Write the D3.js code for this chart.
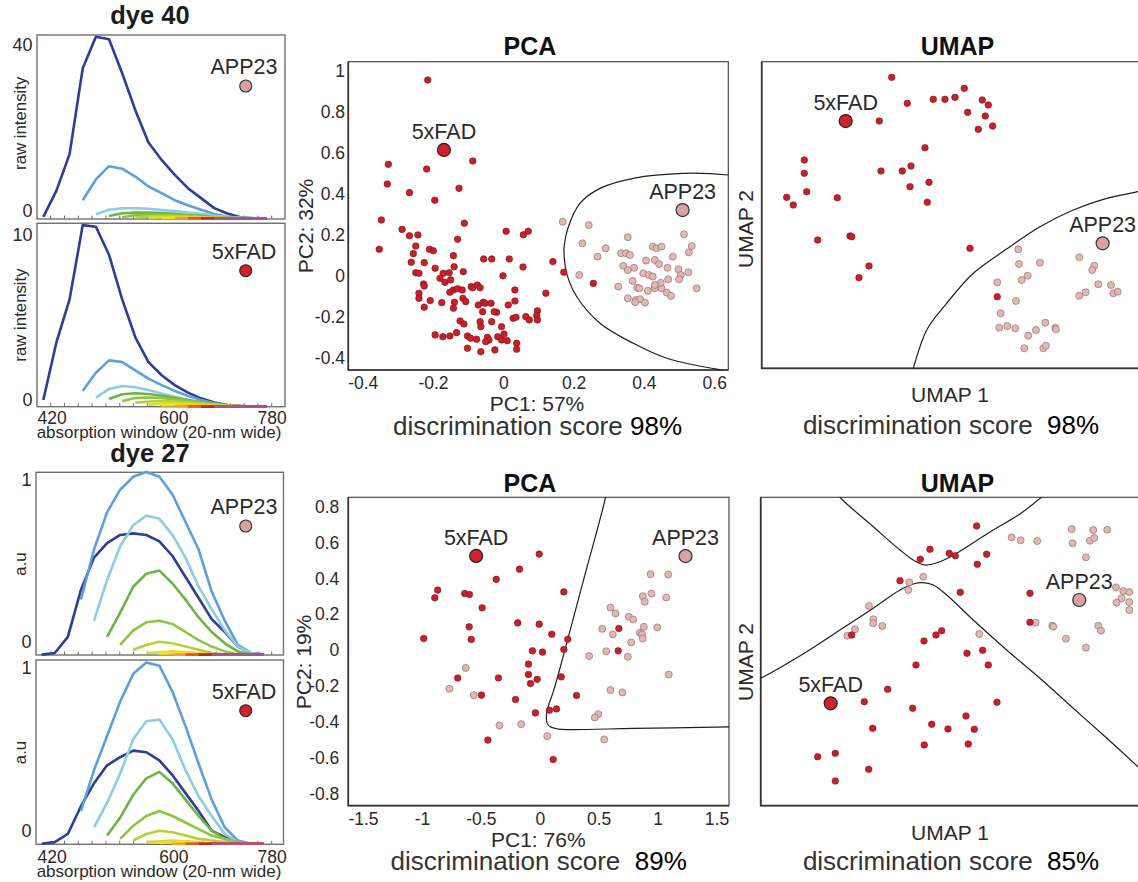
<!DOCTYPE html>
<html><head><meta charset="utf-8">
<script src="https://cdn.jsdelivr.net/npm/d3@7"></script>
<style>
body{margin:0;background:#fff;}
svg text{font-family:"Liberation Sans",Arial,Helvetica,sans-serif;}
</style></head><body>
<svg id="c" width="1138" height="882"></svg>
<script>
// ================= DATA =================
const wavelengthTicks = [420, 600, 780];
const spectraColors = ["#2e3d96","#5ba0dc","#8ccde4","#6cb545","#8cc540","#b3d236","#dcdd26","#f4e01b","#efa02f","#e3562b","#c1262c","#b24d94"];

// each curve: [first window index, values...]
const dye40_APP23 = [
  [0, [-1.4, 4.9, 13.7, 34.4, 42.0, 41.4, 33.2, 24.3, 16.5, 12.3, 8.7, 5.5, 3.1, 0.7, -0.6, -1.5, -1.75, -1.75]],
  [3, [2.6, 7.6, 10.8, 10.2, 8.3, 5.9, 4.3, 2.6, 1.4, 0.3, -0.7, -1.4, -1.75, -1.75, -1.75]],
  [4, [-0.8, 0.3, 0.65, 0.65, 0.55, 0.25, 0.0, -0.35, -0.7, -1.1, -1.4, -1.55, -1.7, -1.75]],
  [5, [-1.2, -0.55, -0.4, -0.4, -0.5, -0.7, -1.0, -1.2, -1.45, -1.6, -1.7, -1.75, -1.75]],
  [6, [-1.5, -1.0, -0.9, -0.9, -1.0, -1.2, -1.4, -1.55, -1.7, -1.75, -1.75, -1.75]],
  [7, [-1.6, -1.3, -1.2, -1.25, -1.35, -1.5, -1.6, -1.7, -1.75, -1.75, -1.75]],
  [8, [-1.65, -1.5, -1.45, -1.5, -1.6, -1.7, -1.75, -1.75, -1.75, -1.75]],
  [9, [-1.7, -1.6, -1.6, -1.65, -1.7, -1.75, -1.75, -1.75, -1.75]],
  [10, [-1.72, -1.7, -1.7, -1.72, -1.75, -1.75, -1.75, -1.75]],
  [11, [-1.75, -1.73, -1.73, -1.75, -1.75, -1.75, -1.75]],
  [12, [-1.75, -1.75, -1.75, -1.75, -1.75, -1.75]],
  [13, [-1.75, -1.75, -1.75, -1.75, -1.75]]
];
const dye40_5xFAD = [
  [0, [0, 3.5, 6.1, 10.6, 10.5, 8.8, 6.1, 3.8, 2.3, 1.5, 0.9, 0.45, 0.1, -0.15, -0.3, -0.36, -0.4, -0.4]],
  [3, [0.56, 1.65, 2.4, 2.3, 1.8, 1.3, 0.9, 0.55, 0.25, 0.0, -0.2, -0.3, -0.36, -0.4, -0.4]],
  [4, [0.14, 0.67, 0.85, 0.77, 0.6, 0.4, 0.2, 0.0, -0.16, -0.27, -0.33, -0.36, -0.4, -0.4]],
  [5, [0.06, 0.35, 0.41, 0.36, 0.26, 0.14, 0.0, -0.12, -0.24, -0.33, -0.36, -0.4, -0.4]],
  [6, [-0.06, 0.12, 0.15, 0.12, 0.03, -0.06, -0.16, -0.26, -0.33, -0.38, -0.4, -0.4]],
  [7, [-0.16, -0.09, -0.06, -0.09, -0.15, -0.22, -0.28, -0.33, -0.38, -0.4, -0.4]],
  [8, [-0.28, -0.22, -0.2, -0.24, -0.3, -0.35, -0.38, -0.4, -0.4, -0.4]],
  [9, [-0.33, -0.3, -0.3, -0.33, -0.36, -0.38, -0.4, -0.4, -0.4]],
  [10, [-0.37, -0.36, -0.37, -0.38, -0.4, -0.4, -0.4, -0.4]],
  [11, [-0.39, -0.38, -0.39, -0.4, -0.4, -0.4, -0.4]],
  [12, [-0.4, -0.4, -0.4, -0.4, -0.4, -0.4]],
  [13, [-0.4, -0.4, -0.4, -0.4, -0.4]]
];
const dye27_APP23 = [
  [0, [-0.08, -0.07, 0.03, 0.32, 0.52, 0.61, 0.66, 0.67, 0.66, 0.62, 0.53, 0.40, 0.27, 0.14, 0.06, -0.03, -0.07, -0.08]],
  [3, [0.26, 0.57, 0.80, 0.94, 1.02, 1.05, 1.02, 0.91, 0.74, 0.57, 0.31, 0.13, -0.02, -0.07, -0.08]],
  [4, [0.13, 0.38, 0.59, 0.72, 0.78, 0.76, 0.66, 0.52, 0.34, 0.20, 0.07, -0.03, -0.07, -0.08]],
  [5, [0.03, 0.18, 0.34, 0.42, 0.44, 0.36, 0.26, 0.15, 0.06, -0.01, -0.06, -0.08, -0.08]],
  [6, [-0.02, 0.07, 0.12, 0.13, 0.11, 0.06, 0.01, -0.03, -0.06, -0.08, -0.08, -0.08]],
  [7, [-0.05, -0.02, 0.0, -0.01, -0.03, -0.05, -0.07, -0.08, -0.08, -0.08, -0.08]],
  [8, [-0.07, -0.065, -0.06, -0.065, -0.07, -0.08, -0.08, -0.08, -0.08, -0.08]],
  [9, [-0.075, -0.07, -0.07, -0.075, -0.08, -0.08, -0.08, -0.08, -0.08]],
  [10, [-0.08, -0.08, -0.08, -0.08, -0.08, -0.08, -0.08, -0.08]],
  [11, [-0.08, -0.08, -0.08, -0.08, -0.08, -0.08, -0.08]],
  [12, [-0.08, -0.08, -0.08, -0.08, -0.08, -0.08]],
  [13, [-0.08, -0.08, -0.08, -0.08, -0.08]]
];
const dye27_5xFAD = [
  [0, [-0.08, -0.07, -0.02, 0.15, 0.29, 0.40, 0.45, 0.49, 0.48, 0.43, 0.34, 0.23, 0.12, 0.0, -0.04, -0.07, -0.08, -0.08]],
  [3, [0.12, 0.37, 0.58, 0.79, 0.96, 1.03, 1.01, 0.85, 0.64, 0.41, 0.19, 0.02, -0.06, -0.08, -0.08]],
  [4, [0.02, 0.17, 0.35, 0.56, 0.67, 0.68, 0.56, 0.37, 0.21, 0.09, -0.02, -0.07, -0.08, -0.08]],
  [5, [-0.03, 0.08, 0.22, 0.32, 0.36, 0.29, 0.19, 0.09, 0.0, -0.05, -0.07, -0.08, -0.08]],
  [6, [-0.05, 0.03, 0.09, 0.12, 0.09, 0.05, 0.01, -0.03, -0.05, -0.07, -0.08, -0.08]],
  [7, [-0.06, -0.02, 0.0, -0.01, -0.03, -0.05, -0.06, -0.07, -0.08, -0.08, -0.08]],
  [8, [-0.07, -0.065, -0.06, -0.065, -0.07, -0.08, -0.08, -0.08, -0.08, -0.08]],
  [9, [-0.075, -0.07, -0.07, -0.075, -0.08, -0.08, -0.08, -0.08, -0.08]],
  [10, [-0.08, -0.08, -0.08, -0.08, -0.08, -0.08, -0.08, -0.08]],
  [11, [-0.08, -0.08, -0.08, -0.08, -0.08, -0.08, -0.08]],
  [12, [-0.08, -0.08, -0.08, -0.08, -0.08, -0.08]],
  [13, [-0.08, -0.08, -0.08, -0.08, -0.08]]
];

// ---- dye 40 PCA ----
const pca40_xTicks = [-0.4, -0.2, 0, 0.2, 0.4, 0.6];
const pca40_yTicks = [-0.4, -0.2, 0, 0.2, 0.4, 0.6, 0.8, 1];
const pca40_5xFAD = [[-0.215,0.955],[-0.327,0.544],[-0.330,0.448],[-0.218,0.521],[-0.087,0.560],[-0.267,0.406],[-0.195,0.369],[-0.126,0.427],[-0.347,0.273],[-0.288,0.227],[-0.267,0.196],[-0.243,0.200],[-0.111,0.257],[-0.130,0.179],[-0.353,0.130],[-0.249,0.146],[-0.256,0.109],[-0.210,0.130],[-0.199,0.123],[-0.142,0.099],[0.008,0.218],[0.057,0.201],[0.071,0.218],[-0.262,0.067],[-0.225,0.065],[-0.249,0.016],[-0.240,0.013],[-0.194,0.038],[-0.171,0.013],[-0.154,0.016],[-0.140,0.045],[-0.114,0.021],[-0.056,0.083],[-0.033,0.083],[0.017,0.083],[0.056,0.044],[0.141,0.070],[0.172,0.018],[-0.001,0.001],[-0.180,-0.011],[-0.166,-0.031],[-0.150,-0.019],[-0.227,-0.039],[-0.225,-0.049],[-0.240,-0.084],[-0.240,-0.109],[-0.225,-0.152],[-0.208,-0.120],[-0.175,-0.130],[-0.142,-0.068],[-0.130,-0.062],[-0.117,-0.068],[-0.152,-0.079],[-0.139,-0.128],[-0.142,-0.157],[-0.115,-0.109],[-0.107,-0.125],[-0.091,-0.052],[-0.087,-0.057],[-0.074,-0.044],[-0.066,-0.057],[-0.071,-0.141],[-0.057,-0.128],[-0.052,-0.133],[-0.035,-0.133],[-0.019,-0.177],[-0.026,-0.174],[-0.033,-0.223],[-0.059,-0.174],[-0.066,-0.223],[-0.123,-0.219],[-0.112,-0.234],[-0.005,-0.247],[-0.064,-0.247],[0.033,-0.068],[0.033,-0.122],[0.014,-0.141],[0.097,-0.170],[0.095,-0.193],[0.097,-0.214],[0.064,-0.198],[0.074,-0.214],[0.028,-0.206],[0.036,-0.201],[0.121,-0.084],[0.256,-0.036],[-0.194,-0.287],[-0.172,-0.296],[-0.152,-0.292],[-0.133,-0.276],[-0.102,-0.292],[-0.093,-0.303],[-0.076,-0.308],[-0.045,-0.299],[-0.041,-0.312],[-0.050,-0.320],[-0.016,-0.296],[-0.005,-0.312],[0.002,-0.283],[0.011,-0.315],[0.038,-0.328],[0.038,-0.357],[-0.024,-0.360],[-0.064,-0.369],[-0.102,-0.352]];
const pca40_APP23 = [[0.169,0.264],[0.243,0.248],[0.225,0.159],[0.291,0.135],[0.268,0.094],[0.354,0.189],[0.335,0.111],[0.349,0.111],[0.360,0.102],[0.425,0.143],[0.436,0.135],[0.450,0.143],[0.514,0.203],[0.536,0.146],[0.528,0.115],[0.482,0.094],[0.406,0.075],[0.431,0.078],[0.443,0.058],[0.341,0.050],[0.372,0.040],[0.354,0.029],[0.467,0.040],[0.498,0.033],[0.526,0.018],[0.216,0.005],[0.398,0.013],[0.414,0.005],[0.425,-0.003],[0.469,-0.016],[0.505,0.005],[0.368,-0.024],[0.327,-0.052],[0.381,-0.057],[0.444,-0.044],[0.450,-0.060],[0.550,-0.060],[0.387,-0.060],[0.411,-0.072],[0.431,-0.060],[0.448,-0.033],[0.431,-0.044],[0.465,-0.081],[0.477,-0.097],[0.354,-0.109],[0.377,-0.117],[0.389,-0.113],[0.403,-0.130],[0.375,-0.128],[0.500,-0.016]];
const pca40_boundary = [[0.70,0.475],[0.640,0.492],[0.512,0.500],[0.370,0.476],[0.275,0.427],[0.218,0.354],[0.185,0.240],[0.173,0.143],[0.174,0.078],[0.180,0.013],[0.209,-0.101],[0.275,-0.230],[0.370,-0.328],[0.465,-0.401],[0.607,-0.454],[0.70,-0.48]];
const pca40_centroids = [["5xFAD",-0.169,0.614],["APP23",0.510,0.321]];

// ---- dye 40 UMAP ----
const umap40_5xFAD = [[3.436,7.592],[3.848,6.914],[4.535,7.018],[4.845,7.018],[5.109,7.070],[5.355,7.305],[5.830,7.000],[5.989,6.870],[5.445,6.679],[5.910,6.583],[5.725,6.235],[6.105,6.322],[3.108,6.452],[4.316,5.755],[1.126,5.435],[1.126,5.088],[1.189,4.608],[0.661,4.461],[0.835,4.261],[1.998,4.451],[3.153,5.148],[3.716,5.148],[3.946,5.278],[3.920,4.738],[4.422,4.853],[4.377,4.331],[1.480,3.347],[2.334,3.452],[2.379,3.434],[5.505,3.131],[2.836,2.669],[2.572,2.364],[6.227,1.868]];
const umap40_APP23 = [[6.782,3.105],[6.800,2.721],[7.356,2.755],[7.030,2.416],[6.872,2.304],[6.227,2.244],[8.394,2.896],[8.791,2.677],[8.738,2.565],[8.896,2.192],[9.232,2.173],[6.721,1.756],[6.317,1.435],[6.280,1.059],[6.491,1.104],[6.703,1.044],[7.046,0.851],[7.250,0.999],[7.496,1.190],[7.760,1.059],[7.778,1.018],[6.941,0.522],[7.443,0.522],[7.514,0.590],[9.293,1.957],[9.409,1.999],[8.394,1.894],[8.563,1.983]];
const umap40_boundary = [[10.3,4.68],[9.945,4.608],[9.118,4.435],[8.236,4.130],[7.356,3.694],[6.475,3.113],[5.593,2.479],[4.890,1.696],[4.361,0.999],[4.007,0.0],[3.92,-0.3]];
const umap40_centroids = [["5xFAD",2.220,6.452],["APP23",9.012,3.261]];

// ---- dye 27 PCA ----
const pca27_xTicks = [-1.5, -1, -0.5, 0, 0.5, 1, 1.5];
const pca27_yTicks = [-0.8, -0.6, -0.4, -0.2, 0, 0.2, 0.4, 0.6, 0.8];
const pca27_5xFAD = [[-0.005,0.536],[-0.172,0.452],[-0.370,0.395],[-0.866,0.335],[-0.891,0.292],[-0.637,0.316],[-0.597,0.311],[0.204,0.325],[-0.489,0.236],[-0.187,0.152],[-0.005,0.145],[0.102,0.089],[-0.599,0.130],[-0.582,0.060],[-0.985,0.065],[0.238,0.061],[0.204,0.004],[-0.062,-0.004],[0.023,-0.011],[-0.096,-0.078],[0.671,0.121],[0.666,-0.004],[-0.696,-0.155],[-0.351,-0.155],[-0.096,-0.136],[-0.022,-0.163],[-0.079,-0.186],[0.182,-0.149],[-0.495,-0.251],[-0.206,-0.275],[0.312,-0.253],[-0.037,-0.350],[0.082,-0.335],[0.142,-0.328],[-0.441,-0.502],[0.114,-0.610]];
const pca27_APP23 = [[0.940,0.424],[1.090,0.422],[0.948,0.316],[0.874,0.301],[0.891,0.270],[1.073,0.294],[0.600,0.238],[0.643,0.205],[0.756,0.186],[0.793,0.171],[0.530,0.119],[0.620,0.088],[0.883,0.130],[0.997,0.127],[0.849,0.097],[0.869,0.088],[0.874,0.065],[0.776,0.043],[0.564,-0.006],[0.419,-0.033],[0.747,-0.037],[1.095,-0.136],[-0.628,-0.099],[-0.767,-0.216],[-0.560,-0.251],[0.600,-0.223],[0.702,-0.236],[0.496,-0.357],[0.467,-0.376],[-0.342,-0.420],[-0.158,-0.413],[0.063,-0.480],[0.547,-0.498]];
const pca27_boundary = [[0.60,1.0],[0.558,0.852],[0.374,0.398],[0.190,-0.056],[0.119,-0.223],[0.063,-0.335],[0.057,-0.391],[0.068,-0.415],[0.091,-0.428],[0.148,-0.439],[0.233,-0.443],[0.798,-0.437],[1.604,-0.428],[1.70,-0.427]];
const pca27_centroids = [["5xFAD",-0.540,0.526],["APP23",1.237,0.525]];

// ---- dye 27 UMAP ----
const umap27_5xFAD = [[5.694,7.255],[4.463,6.651],[4.207,6.392],[4.971,6.547],[5.130,6.485],[5.957,6.521],[5.710,6.262],[3.672,5.837],[5.261,5.536],[7.099,5.510],[7.099,4.757],[2.399,4.428],[4.771,4.540],[4.621,4.428],[4.305,4.272],[5.852,4.031],[5.438,3.953],[4.094,3.650],[6.000,3.650],[3.348,3.019],[2.731,2.698],[4.007,2.527],[6.229,2.682],[2.952,2.008],[4.508,2.112],[4.937,1.990],[5.412,2.327],[5.631,1.982],[4.312,1.575],[5.472,1.600],[1.503,1.271],[1.966,1.359],[2.847,0.944],[1.966,0.641]];
const umap27_APP23 = [[6.616,6.962],[6.854,6.884],[7.291,6.866],[8.198,7.177],[8.767,7.152],[9.136,7.159],[8.224,6.807],[8.680,6.874],[8.794,6.944],[8.575,6.443],[4.286,5.940],[3.917,5.795],[3.891,5.595],[2.855,5.180],[2.968,4.835],[2.968,4.731],[3.205,4.661],[2.486,4.576],[2.283,4.410],[5.762,4.454],[7.249,4.747],[7.687,4.669],[7.713,4.643],[8.048,4.332],[8.575,4.099],[8.899,4.669],[8.971,4.540],[9.366,5.665],[9.558,5.569],[9.717,5.543],[9.516,5.380],[9.384,5.266],[9.717,5.284],[9.717,5.076]];
const umap27_boundaryUpper = [[1.958,8.19],[2.090,8.0],[2.968,7.237],[3.672,6.633],[4.023,6.373],[4.331,6.244],[4.726,6.329],[5.166,6.547],[6.044,7.100],[6.835,7.567],[7.407,8.0],[7.63,8.14]];
const umap27_boundaryLower = [[-0.15,3.235],[0,3.305],[1.213,3.995],[2.090,4.558],[2.968,5.121],[3.672,5.595],[4.023,5.751],[4.270,5.785],[4.550,5.725],[4.903,5.466],[5.604,4.817],[6.485,4.039],[7.362,3.305],[8.240,2.527],[9.120,1.756],[9.946,1.012],[10.26,0.72]];
const umap27_centroids = [["5xFAD",1.845,2.656],["APP23",8.398,5.336]];

// ================= DRAWING =================
const svg = d3.select("#c");
const INK = "#2a2a2a";
const RED = "#c8202a", RED_S = "#7a1616";
const PINK = "#e4b7b6", PINK_S = "#927070";
const BIG = {"5xFAD": ["#d0232b", "#222"], "APP23": ["#d9a3a3", "#333"]};
let clipN = 0;

function txt(g, x, y, s, size, opts = {}) {
  const t = g.append("text").attr("x", x).attr("y", y).text(s)
    .attr("font-size", size).attr("fill", opts.fill || INK)
    .attr("text-anchor", opts.anchor || "middle");
  if (opts.bold) t.attr("font-weight", "bold");
  if (opts.rotate) t.attr("transform", `rotate(-90,${x},${y})`);
  return t;
}

function drawSpectra(c) {
  const g = svg.append("g");
  const xk = d3.scaleLinear().domain([0, 17]).range(c.kRange);
  const y = d3.scaleLinear().domain(c.yDomain).range(c.yRange);
  const tk = d3.scaleLinear().domain([0, 16]).range([50.7, 271.7]);
  g.append("rect").attr("x", c.x0).attr("y", c.y0).attr("width", c.x1 - c.x0).attr("height", c.y1 - c.y0)
    .attr("fill", "none").attr("stroke", "#707070").attr("stroke-width", 1.4);
  g.append("g").selectAll("line").data(d3.range(17)).join("line")
    .attr("x1", d => tk(d)).attr("x2", d => tk(d)).attr("y1", c.y1).attr("y2", c.y1 - 3.5)
    .attr("stroke", "#707070").attr("stroke-width", 1);
  const line = d3.line().x(d => xk(d[0])).y(d => y(d[1]));
  c.curves.forEach((cv, i) => {
    const pts = cv[1].map((v, j) => [cv[0] + j, v]);
    g.append("path").attr("d", line(pts)).attr("fill", "none")
      .attr("stroke", spectraColors[i]).attr("stroke-width", 2.6).attr("stroke-linejoin", "round");
  });
  const ya = g.append("g").attr("transform", `translate(${c.x0},0)`)
    .call(d3.axisLeft(y).tickValues(c.yDomain).tickSize(0).tickPadding(4.5).tickFormat(d3.format("d")));
  ya.select(".domain").remove();
  ya.attr("font-family", null);
  ya.selectAll("text").attr("font-size", 18).attr("fill", INK);
  if (c.xLabels) {
    const wl = d3.scaleLinear().domain(wavelengthTicks).range([51.7, 173.3, 271.7]);
    const xa = g.append("g").attr("transform", `translate(0,${c.y1})`)
      .call(d3.axisBottom(wl).tickValues(wavelengthTicks).tickSize(0).tickPadding(c.xPad));
    xa.select(".domain").remove();
    xa.attr("font-family", null);
    xa.selectAll("text").attr("font-size", 17.5).attr("fill", INK);
    txt(g, 159, c.xlabY, "absorption window (20-nm wide)", 17);
  }
  txt(g, 26, c.ylabY, c.ylab, 16.8, {rotate: true});
  txt(g, 244, c.dot[1] - 12, c.group, 21.5);
  g.append("circle").attr("cx", c.dot[0]).attr("cy", c.dot[1]).attr("r", 6)
    .attr("fill", BIG[c.group][0]).attr("stroke", BIG[c.group][1]).attr("stroke-width", 1.1);
}

drawSpectra({x0: 37, x1: 285, y0: 35, y1: 219, kRange: [43.3, 266.8], yDomain: [0, 40], yRange: [211, 45],
  curves: dye40_APP23, group: "APP23", dot: [245.7, 86], ylab: "raw intensity", ylabY: 123.3, xLabels: false});
drawSpectra({x0: 37, x1: 285, y0: 223.3, y1: 406.7, kRange: [43.3, 266.8], yDomain: [0, 10], yRange: [400, 235],
  curves: dye40_5xFAD, group: "5xFAD", dot: [245.7, 270.7], ylab: "raw intensity", ylabY: 315, xLabels: true, xPad: 5, xlabY: 437.5});
drawSpectra({x0: 36, x1: 283.5, y0: 472.3, y1: 655, kRange: [41.7, 264], yDomain: [0, 1], yRange: [641.7, 480],
  curves: dye27_APP23, group: "APP23", dot: [245.7, 526], ylab: "a.u", ylabY: 564, xLabels: false});
drawSpectra({x0: 36, x1: 283.5, y0: 660, y1: 844.3, kRange: [41.7, 264], yDomain: [0, 1], yRange: [830.7, 667.3],
  curves: dye27_5xFAD, group: "5xFAD", dot: [245.7, 710.7], ylab: "a.u", ylabY: 752.5, xLabels: true, xPad: 6.5, xlabY: 876.5});

txt(svg, 150, 24, "dye 40", 25.5, {bold: true, fill: "#1c1c1c"});
txt(svg, 150, 461.7, "dye 27", 25.5, {bold: true, fill: "#1c1c1c"});

const fmt = d => String(+(+d).toFixed(1));

function drawScatter(c) {
  const g = svg.append("g");
  const [fx0, fx1, fy0, fy1] = c.f;
  const x = d3.scaleLinear().domain(c.xDomain).range(c.xRange);
  const y = d3.scaleLinear().domain(c.yDomain).range(c.yRange);
  const id = "clip" + (clipN++);
  svg.append("clipPath").attr("id", id).append("rect")
    .attr("x", fx0).attr("y", fy0).attr("width", fx1 - fx0).attr("height", fy1 - fy0);
  g.append("rect").attr("x", fx0).attr("y", fy0).attr("width", fx1 - fx0).attr("height", fy1 - fy0)
    .attr("fill", "none").attr("stroke", "#3a3a3a").attr("stroke-width", 1.1);
  g.append("path").attr("d", `M${fx0},${fy0}V${fy1}H${fx1}`).attr("fill", "none")
    .attr("stroke", "#333").attr("stroke-width", 1.7);
  if (c.xTicks) {
    const xa = g.append("g").attr("transform", `translate(0,${fy1})`)
      .call(d3.axisBottom(x).tickValues(c.xTicks).tickSize(0).tickPadding(7).tickFormat(fmt));
    xa.select(".domain").remove();
    xa.attr("font-family", null).selectAll("text").attr("font-size", 17.5).attr("fill", INK);
    const ya = g.append("g").attr("transform", `translate(${fx0},0)`)
      .call(d3.axisLeft(y).tickValues(c.yTicks).tickSize(0).tickPadding(c.yPad).tickFormat(fmt));
    ya.select(".domain").remove();
    ya.attr("font-family", null).selectAll("text").attr("font-size", 17.5).attr("fill", INK);
  }
  const ln = d3.line().x(d => x(d[0])).y(d => y(d[1])).curve(d3.curveCatmullRom.alpha(0.5));
  c.boundaries.forEach(b => g.append("path").attr("clip-path", `url(#${id})`).attr("d", ln(b))
    .attr("fill", "none").attr("stroke", "#1e1e1e").attr("stroke-width", 1.2));
  g.append("g").selectAll("circle").data(c.pink).join("circle")
    .attr("cx", d => x(d[0])).attr("cy", d => y(d[1])).attr("r", 3.5)
    .attr("fill", PINK).attr("stroke", PINK_S).attr("stroke-width", 0.7);
  g.append("g").selectAll("circle").data(c.red).join("circle")
    .attr("cx", d => x(d[0])).attr("cy", d => y(d[1])).attr("r", 3.3)
    .attr("fill", RED).attr("stroke", RED_S).attr("stroke-width", 0.6);
  c.centroids.forEach(([name, u, v]) => {
    g.append("circle").attr("cx", x(u)).attr("cy", y(v)).attr("r", 6.5)
      .attr("fill", BIG[name][0]).attr("stroke", BIG[name][1]).attr("stroke-width", 1.2);
    txt(g, x(u), y(v) - 11, name, 21.5);
  });
  txt(g, c.title[0], c.title[1], c.title[2], 25, {bold: true, fill: "#111"});
  txt(g, c.xTitle[0], c.xTitle[1], c.xTitle[2], 21);
  txt(g, c.yTitle[0], c.yTitle[1], c.yTitle[2], 21, {rotate: true});
  const s = g.append("text").attr("x", c.score[0]).attr("y", c.score[1]).attr("text-anchor", "middle")
    .attr("font-size", 26);
  s.append("tspan").attr("fill", "#333").text("discrimination score" + c.score[3]);
  s.append("tspan").attr("fill", "#000").text(c.score[2]);
}

drawScatter({f: [348.3, 728.3, 61.7, 370], xDomain: [-0.441, 0.640], xRange: [348.3, 728.3],
  yDomain: [-0.458, 1.044], yRange: [370, 61.7], xTicks: pca40_xTicks, yTicks: pca40_yTicks, yPad: 3.3,
  boundaries: [pca40_boundary], red: pca40_5xFAD, pink: pca40_APP23, centroids: pca40_centroids,
  title: [530, 55, "PCA"], xTitle: [537, 410.7, "PC1: 57%"], yTitle: [313, 226, "PC2: 32%"],
  score: [537.5, 435, "98%", " "]});
drawScatter({f: [761.7, 1150, 61.7, 368.3], xDomain: [0, 10], xRange: [761.7, 1140],
  yDomain: [0, 8], yRange: [368.3, 61.7], xTicks: null,
  boundaries: [umap40_boundary], red: umap40_5xFAD, pink: umap40_APP23, centroids: umap40_centroids,
  title: [957.5, 55, "UMAP"], xTitle: [950, 401.7, "UMAP 1"], yTitle: [753, 229, "UMAP 2"],
  score: [951, 434, "98%", "\u00a0 "]});
drawScatter({f: [348.3, 729, 497.3, 805.7], xDomain: [-1.625, 1.606], xRange: [348.3, 729],
  yDomain: [-0.868, 0.853], yRange: [805.7, 497.3], xTicks: pca27_xTicks, yTicks: pca27_yTicks, yPad: 9,
  boundaries: [pca27_boundary], red: pca27_5xFAD, pink: pca27_APP23, centroids: pca27_centroids,
  title: [530, 491.7, "PCA"], xTitle: [538.3, 846.7, "PC1: 76%"], yTitle: [311, 662, "PC2: 19%"],
  score: [538.7, 869.5, "89%", "\u00a0 "]});
drawScatter({f: [760.7, 1150, 497.3, 805.7], xDomain: [0, 10], xRange: [760.7, 1140],
  yDomain: [0, 8], yRange: [805.7, 497.3], xTicks: null,
  boundaries: [umap27_boundaryUpper, umap27_boundaryLower], red: umap27_5xFAD, pink: umap27_APP23, centroids: umap27_centroids,
  title: [957.5, 491.7, "UMAP"], xTitle: [950, 840, "UMAP 1"], yTitle: [753, 662, "UMAP 2"],
  score: [951, 869.5, "85%", "\u00a0 "]});
</script>
</body></html>
